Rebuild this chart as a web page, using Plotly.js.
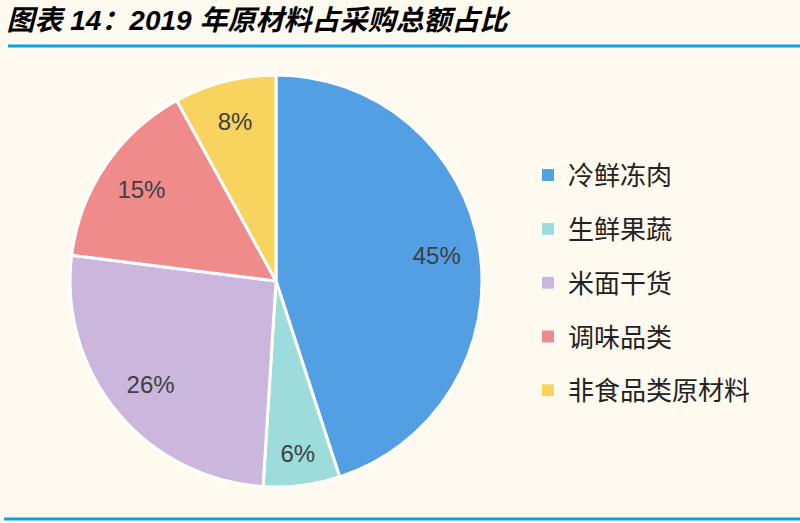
<!DOCTYPE html>
<html>
<head>
<meta charset="utf-8">
<script src="https://cdn.plot.ly/plotly-3.0.1.min.js"></script>
<style>html,body{margin:0;padding:0;background:#fffaf0;}#chart{width:800px;height:523px;}</style>
</head>
<body>
<div id="chart"></div>
<script>
var categories = ["冷鲜冻肉", "生鲜果蔬", "米面干货", "调味品类", "非食品类原材料"];
var shares = [45, 6, 26, 15, 8];
var colors = ["#529fe3", "#9cdcda", "#cbb7dd", "#ef8b8b", "#f8d35e"];
var titleText = "图表 14：2019 年原材料占采购总额占比";

var pieDomain = {x: [0.0875, 0.6025], y: [0.0688, 0.8566]};

var traces = [{
  type: "pie",
  labels: categories,
  values: shares,
  sort: false,
  direction: "clockwise",
  rotation: 0,
  marker: {colors: colors, line: {color: "#ffffff", width: 3}},
  textinfo: "none",
  showlegend: false,
  hoverinfo: "label+percent",
  domain: pieDomain
}, {
  type: "pie",
  labels: categories,
  values: shares,
  sort: false,
  direction: "clockwise",
  rotation: 0,
  hole: 0.58,
  marker: {colors: categories.map(function(){return "rgba(0,0,0,0)";}), line: {width: 0}},
  textinfo: "percent",
  texttemplate: "%{percent:.0%}",
  textposition: "inside",
  insidetextorientation: "horizontal",
  textfont: {family: "Liberation Sans, Arial, sans-serif", size: 24, color: "#404040"},
  showlegend: false,
  hoverinfo: "skip",
  domain: pieDomain
}];

categories.forEach(function(c, i) {
  traces.push({
    type: "scatter",
    mode: "markers",
    x: [null], y: [null],
    name: c,
    legendgroup: "g" + i,
    marker: {symbol: "square", size: 13, color: colors[i], line: {color: "#ffffff", width: 1}},
    showlegend: true,
    hoverinfo: "skip"
  });
});

var layout = {
  width: 800, height: 523,
  paper_bgcolor: "#fffaf0",
  plot_bgcolor: "rgba(0,0,0,0)",
  margin: {l: 0, r: 0, t: 0, b: 0},
  xaxis: {visible: false, domain: [0.9, 1]},
  yaxis: {visible: false, domain: [0.9, 1]},
  title: {
    text: "<b><i>" + titleText + "</i></b>",
    x: 0.008, xanchor: "left", xref: "paper",
    y: 0.962, yanchor: "middle", yref: "container",
    font: {family: "Liberation Sans, Noto Sans CJK SC, sans-serif", size: 28, color: "#000000"}
  },
  legend: {
    x: 0.66, xanchor: "left",
    y: 0.71, yanchor: "top",
    bgcolor: "rgba(0,0,0,0)",
    font: {family: "Noto Sans CJK SC, sans-serif", size: 26, color: "#222222"},
    tracegroupgap: 17,
    itemclick: false
  },
  shapes: [
    {type: "line", xref: "paper", yref: "paper", x0: 0.01, x1: 1, y0: 1 - 46/523, y1: 1 - 46/523, line: {color: "#0aa0e6", width: 3}},
    {type: "line", xref: "paper", yref: "paper", x0: 0.005, x1: 1, y0: 1 - 519/523, y1: 1 - 519/523, line: {color: "#0aa0e6", width: 3}}
  ]
};

Plotly.newPlot("chart", traces, layout, {displayModeBar: false, staticPlot: true});
</script>
</body>
</html>
